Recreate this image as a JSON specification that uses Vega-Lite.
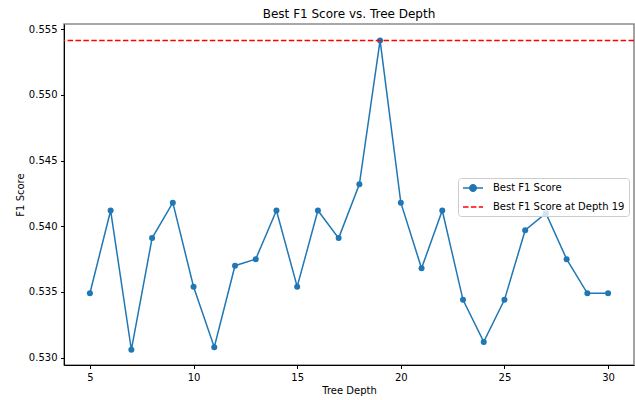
{
  "$schema": "https://vega.github.io/schema/vega-lite/v6.json",
  "autosize": {"type": "none"},
  "padding": {"left": 64, "top": 24, "right": 1, "bottom": 35},
  "width": 570,
  "height": 341,
  "background": "white",
  "title": {"text": "Best F1 Score vs. Tree Depth", "fontSize": 12, "font": "DejaVu Sans", "fontWeight": "normal", "color": "black", "baseline": "alphabetic", "offset": 6.5, "frame": "group", "dy": 12},
  "config": {
    "font": "DejaVu Sans",
    "view": {"stroke": "#8c8c8c", "strokeWidth": 1.6},
    "axis": {
      "domainColor": "black", "domainWidth": 1, "tickColor": "black", "tickWidth": 1, "tickSize": 3.5,
      "labelFont": "DejaVu Sans", "labelFontSize": 10, "labelColor": "black", "labelPadding": 3.5,
      "titleFont": "DejaVu Sans", "titleFontSize": 10, "titleFontWeight": "normal", "titleColor": "black",
      "grid": false
    }
  },
  "layer": [
    {
      "data": {"values": [
        {"depth": 5, "f1": 0.5349, "series": "Best F1 Score"}, {"depth": 6, "f1": 0.5412, "series": "Best F1 Score"}, {"depth": 7, "f1": 0.5306, "series": "Best F1 Score"},
        {"depth": 8, "f1": 0.5391, "series": "Best F1 Score"}, {"depth": 9, "f1": 0.5418, "series": "Best F1 Score"}, {"depth": 10, "f1": 0.5354, "series": "Best F1 Score"},
        {"depth": 11, "f1": 0.5308, "series": "Best F1 Score"}, {"depth": 12, "f1": 0.5370, "series": "Best F1 Score"}, {"depth": 13, "f1": 0.5375, "series": "Best F1 Score"},
        {"depth": 14, "f1": 0.5412, "series": "Best F1 Score"}, {"depth": 15, "f1": 0.5354, "series": "Best F1 Score"}, {"depth": 16, "f1": 0.5412, "series": "Best F1 Score"},
        {"depth": 17, "f1": 0.5391, "series": "Best F1 Score"}, {"depth": 18, "f1": 0.5432, "series": "Best F1 Score"}, {"depth": 19, "f1": 0.55415, "series": "Best F1 Score"},
        {"depth": 20, "f1": 0.5418, "series": "Best F1 Score"}, {"depth": 21, "f1": 0.5368, "series": "Best F1 Score"}, {"depth": 22, "f1": 0.5412, "series": "Best F1 Score"},
        {"depth": 23, "f1": 0.5344, "series": "Best F1 Score"}, {"depth": 24, "f1": 0.5312, "series": "Best F1 Score"}, {"depth": 25, "f1": 0.5344, "series": "Best F1 Score"},
        {"depth": 26, "f1": 0.5397, "series": "Best F1 Score"}, {"depth": 27, "f1": 0.5410, "series": "Best F1 Score"}, {"depth": 28, "f1": 0.5375, "series": "Best F1 Score"},
        {"depth": 29, "f1": 0.5349, "series": "Best F1 Score"}, {"depth": 30, "f1": 0.5349, "series": "Best F1 Score"}
      ]},
      "encoding": {
        "x": {"field": "depth", "type": "quantitative", "title": "Tree Depth",
          "scale": {"domain": [3.75, 31.25], "nice": false, "zero": false},
          "axis": {"values": [5, 10, 15, 20, 25, 30], "format": "d", "titlePadding": 3}},
        "y": {"field": "f1", "type": "quantitative", "title": "F1 Score",
          "scale": {"domain": [0.52944, 0.5554], "nice": false, "zero": false},
          "axis": {"values": [0.53, 0.535, 0.54, 0.545, 0.55, 0.555], "format": ".3f", "titlePadding": 3}},
        "color": {"field": "series", "type": "nominal",
          "scale": {"domain": ["Best F1 Score", "Best F1 Score at Depth 19"], "range": ["#1f77b4", "red"]},
          "legend": {
            "title": null, "orient": "none", "legendX": 394, "legendY": 154,
            "padding": 4, "rowPadding": 6, "symbolSize": 100, "symbolOffset": 5, "labelOffset": 14,
            "labelFontSize": 10, "labelFont": "DejaVu Sans", "labelColor": "black",
            "fillColor": "rgba(255,255,255,0.8)", "strokeColor": "#cccccc", "cornerRadius": 3,
            "encode": {"symbols": {"update": {
              "shape": {"signal": "datum.value === 'Best F1 Score' ? 'M-2,0L2,0M-0.65,0A0.65,0.65 0 1,0 0.65,0A0.65,0.65 0 1,0 -0.65,0' : 'M-2,0L2,0'"},
              "fill": {"signal": "datum.value === 'Best F1 Score' ? '#1f77b4' : 'transparent'"},
              "stroke": {"signal": "datum.value === 'Best F1 Score' ? '#1f77b4' : 'red'"},
              "strokeDash": {"signal": "datum.value === 'Best F1 Score' ? [] : [5.5, 2.4]"},
              "strokeWidth": {"value": 1.5},
              "opacity": {"value": 1},
              "size": {"value": 100}
            }}}
          }}
      },
      "layer": [
        {"mark": {"type": "line", "strokeWidth": 1.5}},
        {"mark": {"type": "point", "filled": true, "size": 36, "opacity": 1}}
      ]
    },
    {
      "data": {"values": [{"best": 0.55415, "label": "Best F1 Score at Depth 19"}]},
      "mark": {"type": "rule", "strokeWidth": 1.5, "strokeDash": [5.5, 2.4]},
      "encoding": {
        "y": {"field": "best", "type": "quantitative"},
        "color": {"field": "label", "type": "nominal"}
      }
    }
  ]
}
